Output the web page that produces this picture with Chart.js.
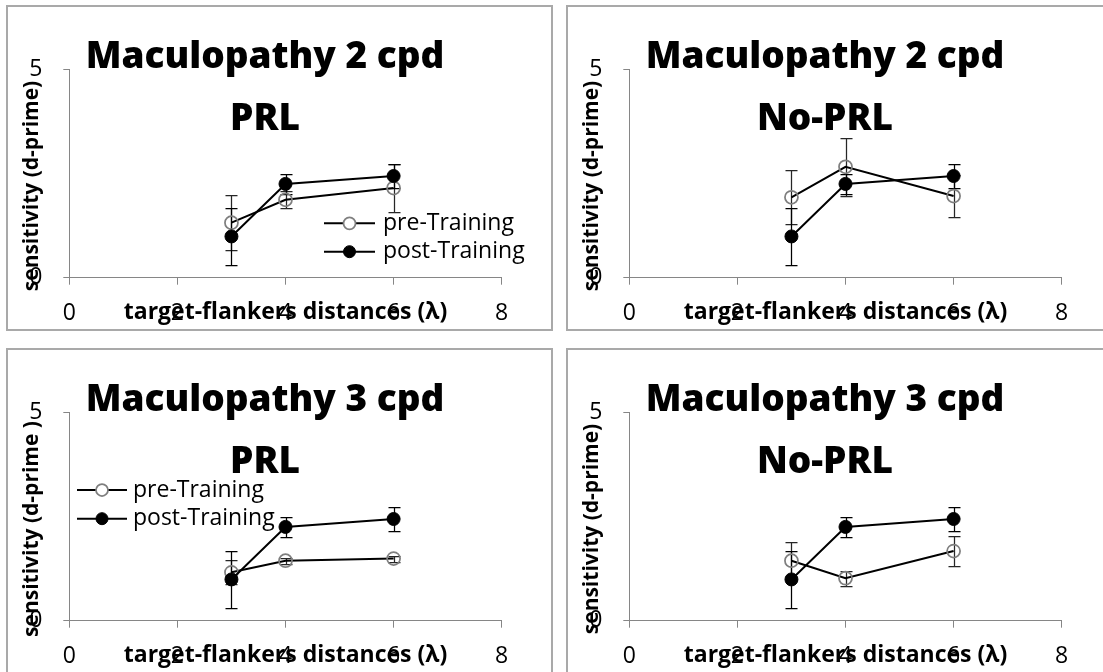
<!DOCTYPE html>
<html>
<head>
<meta charset="utf-8">
<script src="https://cdn.jsdelivr.net/npm/chart.js@4.4.1/dist/chart.umd.min.js"></script>
<style>
html,body{margin:0;padding:0;background:#fff;overflow:hidden;width:1103px;height:672px;position:relative;}
.panel{position:absolute;width:547px;height:326px;border:2px solid #a9a9a9;box-sizing:border-box;overflow:hidden;background:#fff;}
.panel canvas{display:block;}
</style>
</head>
<body>
<div class="panel" style="left:6px;top:5px"><canvas id="c1" width="543" height="322"></canvas></div>
<div class="panel" style="left:566px;top:5px"><canvas id="c2" width="543" height="322"></canvas></div>
<div class="panel" style="left:6px;top:348px"><canvas id="c3" width="543" height="322"></canvas></div>
<div class="panel" style="left:566px;top:348px"><canvas id="c4" width="543" height="322"></canvas></div>
<script>
// ---------- data ----------
const distances = [3, 4, 6];
const xTickValues = [0, 2, 4, 6, 8];
const yTickValues = [0, 5];
const seriesNames = ["pre-Training", "post-Training"];
const xAxisTitle = "target-flankers distances (\u03BB)";

const postTraining = [0.99, 2.25, 2.44];
const postTrainingErr = [0.69, 0.23, 0.29];

const pre2cpdPRL = [1.32, 1.87, 2.15];
const pre2cpdPRLErr = [0.66, 0.20, 0.57];
const pre2cpdNoPRL = [1.93, 2.66, 1.96];
const pre2cpdNoPRLErr = [0.65, 0.70, 0.50];
const pre3cpdPRL = [1.16, 1.44, 1.49];
const pre3cpdPRLErr = [0.29, 0.07, 0.07];
const pre3cpdNoPRL = [1.44, 1.02, 1.67];
const pre3cpdNoPRLErr = [0.46, 0.18, 0.36];

const panelTitles = [
  ["Maculopathy 2 cpd", "PRL"],
  ["Maculopathy 2 cpd", "No-PRL"],
  ["Maculopathy 3 cpd", "PRL"],
  ["Maculopathy 3 cpd", "No-PRL"]
];
const yAxisTitles = [
  "sensitivity (d-prime)",
  "sensitivity (d-prime)",
  "sensitivity (d-prime )",
  "sensitivity (d-prime)"
];

// ---------- styling ----------
const FONT = "'Open Sans', 'Noto Sans', sans-serif";
const AXIS = "#868686";

const toPoints = (vals) => distances.map((d, i) => ({x: d, y: vals[i]}));

const errorBarPlugin = {
  id: 'errorBars',
  beforeDatasetsDraw(chart) {
    const ctx = chart.ctx, xs = chart.scales.x, ys = chart.scales.y;
    ctx.save();
    chart.data.datasets.forEach((ds) => {
      if (!ds.errors) return;
      ctx.strokeStyle = ds.errorColor || '#000';
      ctx.lineWidth = 1.25;
      ds.data.forEach((p, i) => {
        const e = ds.errors[i];
        const x = Math.round(xs.getPixelForValue(p.x)) + 0.5;
        const y1 = Math.round(ys.getPixelForValue(p.y + e)) + 0.5;
        const y2 = Math.round(ys.getPixelForValue(p.y - e)) + 0.5;
        ctx.beginPath();
        ctx.moveTo(x, y1); ctx.lineTo(x, y2);
        ctx.moveTo(x - 6, y1); ctx.lineTo(x + 6, y1);
        ctx.moveTo(x - 6, y2); ctx.lineTo(x + 6, y2);
        ctx.stroke();
      });
    });
    ctx.restore();
  }
};

const textPlugin = {
  id: 'panelText',
  afterDraw(chart, args, o) {
    const ctx = chart.ctx, ca = chart.chartArea;
    ctx.save();
    ctx.fillStyle = '#000';
    // main title (overlapping plot area, as in reference)
    ctx.font = "800 37px " + FONT;
    ctx.textAlign = 'center';
    ctx.textBaseline = 'alphabetic';
    o.title.forEach((line, i) => ctx.fillText(line, o.titleX, 61 + i * 62));
    // x axis title
    ctx.font = "bold 23px " + FONT;
    ctx.fillText(xAxisTitle, (ca.left + ca.right) / 2, 311.5);
    // y axis title
    ctx.font = "bold 21px " + FONT;
    ctx.save();
    ctx.translate(29.5, 179);
    ctx.rotate(-Math.PI / 2);
    ctx.fillText(o.yTitle, 0, 0);
    ctx.restore();
    // legend
    if (o.legend) {
      const L = o.legend;
      ctx.font = "23px " + FONT;
      ctx.textAlign = 'left';
      ctx.textBaseline = 'middle';
      chart.data.datasets.forEach((ds, i) => {
        const y = L.y + i * L.dy;
        ctx.strokeStyle = '#000';
        ctx.lineWidth = 2;
        ctx.beginPath(); ctx.moveTo(L.x1, y); ctx.lineTo(L.x2, y); ctx.stroke();
        ctx.beginPath();
        ctx.arc((L.x1 + L.x2) / 2, y, 6, 0, Math.PI * 2);
        ctx.fillStyle = ds.pointBackgroundColor === 'rgba(0,0,0,0)' ? '#fff' : ds.pointBackgroundColor;
        ctx.fill();
        ctx.strokeStyle = ds.pointBorderColor;
        ctx.lineWidth = ds.pointBorderWidth;
        ctx.stroke();
        ctx.fillStyle = '#000';
        ctx.fillText(seriesNames[i], L.tx, y);
      });
    }
    ctx.restore();
  }
};

function makeChart(id, preVals, preErr, idx, legend) {
  new Chart(document.getElementById(id), {
    type: 'line',
    data: {
      datasets: [
        {
          label: seriesNames[0],
          data: toPoints(preVals),
          errors: preErr,
          errorColor: '#262626',
          borderColor: '#000',
          borderWidth: 2,
          pointRadius: 6.5,
          pointHoverRadius: 6.5,
          pointBackgroundColor: 'rgba(0,0,0,0)',
          pointBorderColor: '#7f7f7f',
          pointBorderWidth: 1.75,
          fill: false,
          tension: 0,
          order: 1
        },
        {
          label: seriesNames[1],
          data: toPoints(postTraining),
          errors: postTrainingErr,
          errorColor: '#000',
          borderColor: '#000',
          borderWidth: 2,
          pointRadius: 6.5,
          pointHoverRadius: 6.5,
          pointBackgroundColor: '#000',
          pointBorderColor: '#000',
          pointBorderWidth: 1,
          fill: false,
          tension: 0,
          order: 0
        }
      ]
    },
    options: {
      responsive: false,
      animation: false,
      devicePixelRatio: 1,
      layout: { padding: { left: 0, right: 49.3, top: 62.3, bottom: 0 } },
      plugins: {
        legend: { display: false },
        tooltip: { enabled: false },
        panelText: { title: panelTitles[idx], yTitle: yAxisTitles[idx], titleX: 257, legend: legend }
      },
      scales: {
        x: {
          type: 'linear', min: 0, max: 8,
          afterBuildTicks: (s) => { s.ticks = xTickValues.map(v => ({value: v})); },
          afterFit: (s) => { s.height = 51.3; },
          grid: { display: true, drawOnChartArea: false, drawTicks: true, tickLength: 7, color: AXIS },
          border: { display: true, color: AXIS, width: 1 },
          ticks: { font: { family: FONT, size: 23 }, color: '#000', padding: 15, maxRotation: 0, autoSkip: false }
        },
        y: {
          type: 'linear', min: 0, max: 5,
          afterBuildTicks: (s) => { s.ticks = yTickValues.map(v => ({value: v})); },
          afterFit: (s) => { s.width = 61.3; },
          grid: { display: true, drawOnChartArea: false, drawTicks: true, tickLength: 6, color: AXIS },
          border: { display: true, color: AXIS, width: 1 },
          ticks: { font: { family: FONT, size: 23 }, color: '#000', padding: 21 }
        }
      }
    },
    plugins: [errorBarPlugin, textPlugin]
  });
}

makeChart('c1', pre2cpdPRL, pre2cpdPRLErr, 0, { x1: 316, x2: 367, tx: 375, y: 216.3, dy: 28.4 });
makeChart('c2', pre2cpdNoPRL, pre2cpdNoPRLErr, 1, null);
makeChart('c3', pre3cpdPRL, pre3cpdPRLErr, 2, { x1: 69, x2: 119, tx: 125, y: 140, dy: 28.7 });
makeChart('c4', pre3cpdNoPRL, pre3cpdNoPRLErr, 3, null);
</script>
</body>
</html>
